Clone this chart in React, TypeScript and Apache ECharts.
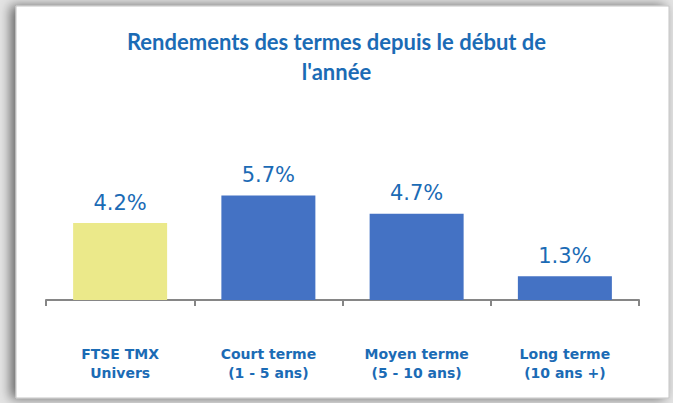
import React, { useEffect, useRef } from "react";
import * as echarts from "echarts";

const categories = ["FTSE TMX\nUnivers", "Court terme\n(1 - 5 ans)", "Moyen terme\n(5 - 10 ans)", "Long terme\n(10 ans +)"];
const values = [4.2, 5.7, 4.7, 1.3];
const barColors = ["#EBE98A", "#4472C4", "#4472C4", "#4472C4"];
const titleText = "Rendements des termes depuis le début de\nl'année";

export default function App() {
  const ref = useRef<HTMLDivElement>(null);
  useEffect(() => {
    if (!ref.current) return;
    const chart = echarts.init(ref.current, undefined, { renderer: "svg" });
    chart.setOption({
      animation: false,
      backgroundColor: "#ffffff",
      graphic: [
        {
          type: "rect",
          z: -10,
          silent: true,
          shape: { x: 0, y: 0, width: 673, height: 403 },
          style: { fill: "#e4e4e4" },
        },
        {
          type: "rect",
          z: -9,
          silent: true,
          shape: { x: 16, y: 6, width: 653, height: 392 },
          style: {
            fill: "#ffffff",
            stroke: "#c4c4c4",
            lineWidth: 1,
            shadowBlur: 12,
            shadowOffsetX: -5,
            shadowOffsetY: 0,
            shadowColor: "rgba(0,0,0,0.55)",
          },
        },
      ],
      title: {
        text: titleText,
        left: "center",
        top: 21,
        textStyle: {
          fontFamily: "Lato",
          fontWeight: "bold",
          fontSize: 22,
          color: "#1B6BB5",
          lineHeight: 30,
        },
      },
      grid: { left: 46, right: 34, top: 190, bottom: 103 },
      xAxis: {
        type: "category",
        data: categories,
        axisLine: { lineStyle: { color: "#868686", width: 2 } },
        axisTick: { show: true, length: 6, lineStyle: { color: "#868686", width: 2 } },
        axisLabel: {
          margin: 44,
          fontFamily: "DejaVu Sans",
          fontWeight: "bold",
          fontSize: 14,
          lineHeight: 19,
          color: "#1B6BB5",
        },
      },
      yAxis: {
        type: "value",
        min: 0,
        max: 6,
        show: false,
        splitLine: { show: false },
      },
      series: [
        {
          type: "bar",
          data: values.map((v, i) => ({ value: v, itemStyle: { color: barColors[i] } })),
          barWidth: 94,
          label: {
            show: true,
            position: "top",
            distance: 10,
            formatter: (p: any) => p.value.toFixed(1) + "%",
            fontFamily: "DejaVu Sans",
            fontSize: 21,
            color: "#1B6BB5",
          },
        },
      ],
    });
    return () => chart.dispose();
  }, []);
  return (
    <div
      ref={ref}
      style={{ position: "absolute", left: 0, top: 0, width: 673, height: 403 }}
    />
  );
}
